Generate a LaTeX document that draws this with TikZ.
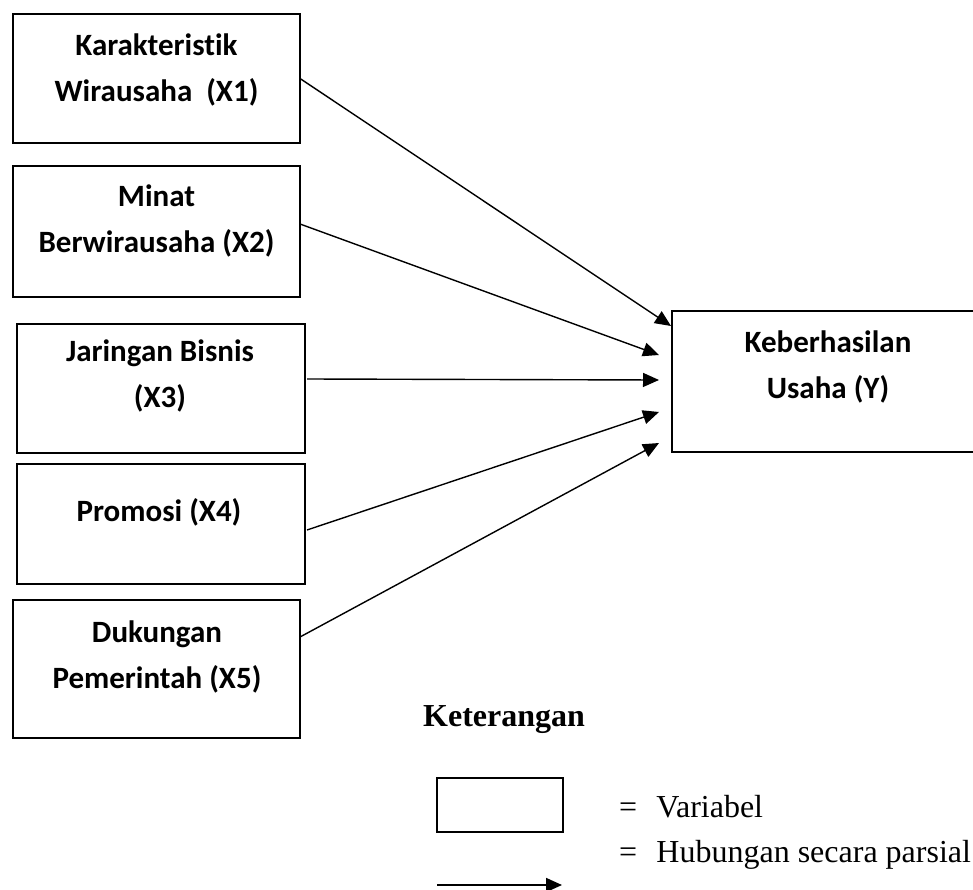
\documentclass[tikz,border=0pt]{standalone}
\usepackage{fontspec}
\setmainfont{Liberation Serif}
\newfontfamily\calibri[Ligatures=NoCommon]{Carlito}
\usetikzlibrary{arrows.meta, positioning, calc}
\tikzset{
  var/.style={draw, line width=2.2pt, inner sep=0pt, outer sep=0pt},
  vtext/.style={font=\calibri\bfseries\fontsize{31}{46}\selectfont, align=center, anchor=base, inner sep=0pt},
  pto/.style={-{Triangle[length=16pt,width=14pt]}, line width=1.4pt},
  legtext/.style={font=\fontsize{32}{38}\selectfont, anchor=base west, inner sep=0pt}
}

\begin{document}
\begin{tikzpicture}[x=1pt, y=-1pt]
  \useasboundingbox (0,0) rectangle (973,890);

  \node[var, minimum width=287pt, minimum height=129pt] (x1) at (156.5,78.5) {};
  \node[var, minimum width=287pt, minimum height=131pt] (x2) at (156.5,231.5) {};
  \node[var, minimum width=288pt, minimum height=129pt] (x3) at (161,388.5) {};
  \node[var, minimum width=288pt, minimum height=120pt] (x4) at (161,524) {};
  \node[var, minimum width=287pt, minimum height=138pt] (x5) at (156.5,669) {};
  \node[var, minimum width=312pt, minimum height=141pt] (y) at (828,381.5) {};

  \node[vtext] (x1t) at (156.5,102) {Karakteristik\\Wirausaha\ \ (X1)};
  \node[vtext] (x2t) at (156.5,253) {Minat\\Berwirausaha (X2)};
  \node[vtext] (x3t) at (160,407) {Jaringan Bisnis\\(X3)};
  \node[vtext] (x4t) at (159,521) {Promosi (X4)};
  \node[vtext] (x5t) at (157,688) {Dukungan\\Pemerintah (X5)};
  \node[vtext] (yt) at (828,398) {Keberhasilan\\Usaha (Y)};

  \coordinate (t1) at (671,326);
  \coordinate (t2) at (659,355);
  \coordinate (t3) at (659,380);
  \coordinate (t4) at (659,412);
  \coordinate (t5) at (659,443);

  \draw[pto] (x1.east) -- (t1);
  \draw[pto] ([yshift=7.5pt]x2.east) -- (t2);
  \draw[pto] ([xshift=2pt,yshift=9.5pt]x3.east) -- (t3);
  \draw[pto] ([xshift=2pt,yshift=-6pt]x4.east) -- (t4);
  \draw[pto] ([yshift=32pt]x5.east) -- (t5);

  \node[legtext, font=\bfseries\fontsize{32}{38}\selectfont] (ket) at (423,726) {Keterangan};
  \node[draw, line width=1.8pt, minimum width=126pt, minimum height=54pt, inner sep=0pt] (lvar) at (500,805) {};
  \node[legtext] (lvart) at (619,817) {=\hspace{0.6em}Variabel};
  \node[legtext] (lrelt) at (619,862) {=\hspace{0.6em}Hubungan secara parsial};
  \coordinate (la) at (437,885);
  \coordinate (lb) at (562,885);
  \draw[pto, line width=1.8pt] (la) -- (lb);
\end{tikzpicture}
\end{document}
